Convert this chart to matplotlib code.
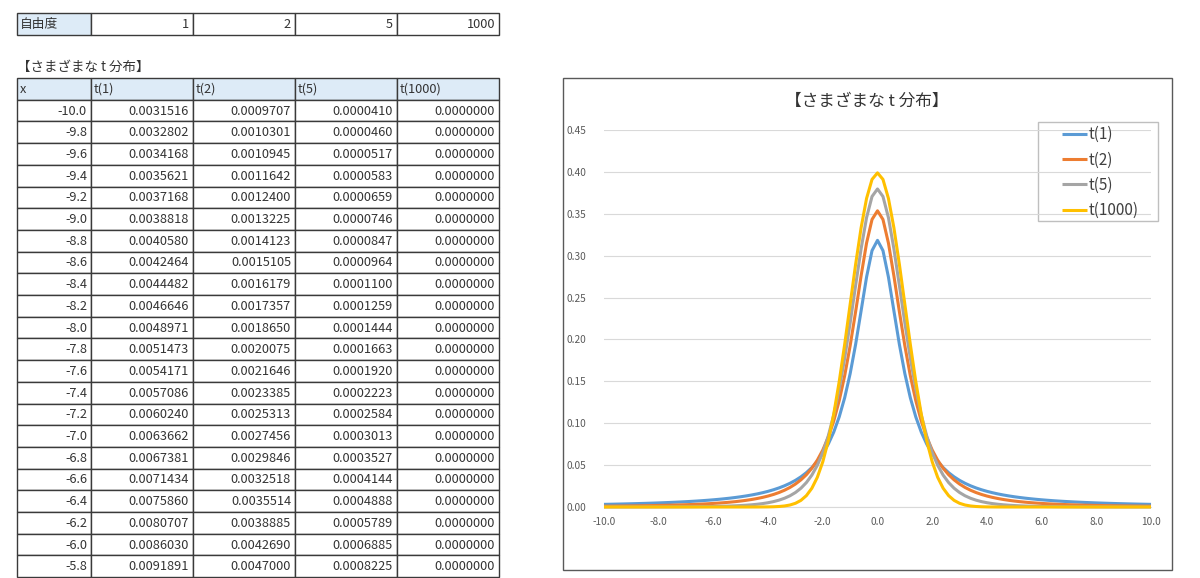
import matplotlib
matplotlib.use('Agg')
import numpy as np
import matplotlib.pyplot as plt
from matplotlib.patches import Rectangle
from matplotlib.ticker import FormatStrFormatter

plt.rcParams['font.family'] = ['Noto Sans CJK JP', 'DejaVu Sans']

# ---------------- data ----------------
dof_label = '自由度'
dof_values = [1, 2, 5, 1000]
table_title = '【さまざまな t 分布】'
chart_title = '【さまざまな t 分布】'
headers = ['x', 't(1)', 't(2)', 't(5)', 't(1000)']

table_x = [-10.0, -9.8, -9.6, -9.4, -9.2, -9.0, -8.8, -8.6, -8.4, -8.2, -8.0,
           -7.8, -7.6, -7.4, -7.2, -7.0, -6.8, -6.6, -6.4, -6.2, -6.0, -5.8]
table_t1 = [0.0031516, 0.0032802, 0.0034168, 0.0035621, 0.0037168, 0.0038818,
            0.0040580, 0.0042464, 0.0044482, 0.0046646, 0.0048971, 0.0051473,
            0.0054171, 0.0057086, 0.0060240, 0.0063662, 0.0067381, 0.0071434,
            0.0075860, 0.0080707, 0.0086030, 0.0091891]
table_t2 = [0.0009707, 0.0010301, 0.0010945, 0.0011642, 0.0012400, 0.0013225,
            0.0014123, 0.0015105, 0.0016179, 0.0017357, 0.0018650, 0.0020075,
            0.0021646, 0.0023385, 0.0025313, 0.0027456, 0.0029846, 0.0032518,
            0.0035514, 0.0038885, 0.0042690, 0.0047000]
table_t5 = [0.0000410, 0.0000460, 0.0000517, 0.0000583, 0.0000659, 0.0000746,
            0.0000847, 0.0000964, 0.0001100, 0.0001259, 0.0001444, 0.0001663,
            0.0001920, 0.0002223, 0.0002584, 0.0003013, 0.0003527, 0.0004144,
            0.0004888, 0.0005789, 0.0006885, 0.0008225]
table_t1000 = [0.0, 0.0, 0.0, 0.0, 0.0, 0.0, 0.0, 0.0, 0.0, 0.0, 0.0,
               0.0, 0.0, 0.0, 0.0, 0.0, 0.0, 0.0, 0.0, 0.0, 0.0, 0.0]

chart_x = [-10.0, -9.8, -9.6, -9.4, -9.2, -9.0, -8.8, -8.6, -8.4, -8.2,
           -8.0, -7.8, -7.6, -7.4, -7.2, -7.0, -6.8, -6.6, -6.4, -6.2,
           -6.0, -5.8, -5.6, -5.4, -5.2, -5.0, -4.8, -4.6, -4.4, -4.2,
           -4.0, -3.8, -3.6, -3.4, -3.2, -3.0, -2.8, -2.6, -2.4, -2.2,
           -2.0, -1.8, -1.6, -1.4, -1.2, -1.0, -0.8, -0.6, -0.4, -0.2,
           0.0,
           0.2, 0.4, 0.6, 0.8, 1.0, 1.2, 1.4, 1.6, 1.8, 2.0,
           2.2, 2.4, 2.6, 2.8, 3.0, 3.2, 3.4, 3.6, 3.8, 4.0,
           4.2, 4.4, 4.6, 4.8, 5.0, 5.2, 5.4, 5.6, 5.8, 6.0,
           6.2, 6.4, 6.6, 6.8, 7.0, 7.2, 7.4, 7.6, 7.8, 8.0,
           8.2, 8.4, 8.6, 8.8, 9.0, 9.2, 9.4, 9.6, 9.8, 10.0]

chart_t1 = [0.0031516, 0.0032802, 0.0034168, 0.0035621, 0.0037168, 0.0038818, 0.0040580, 0.0042464, 0.0044482, 0.0046646,
            0.0048971, 0.0051473, 0.0054171, 0.0057086, 0.0060240, 0.0063662, 0.0067381, 0.0071434, 0.0075860, 0.0080707,
            0.0086030, 0.0091891, 0.009837, 0.010554, 0.011352, 0.012243, 0.013241, 0.014364, 0.015634, 0.017077,
            0.018724, 0.020616, 0.022802, 0.025343, 0.028319, 0.031831, 0.036008, 0.041019, 0.047087, 0.054505,
            0.063662, 0.075073, 0.089413, 0.107537, 0.130455, 0.159155, 0.194091, 0.234051, 0.274405, 0.306067,
            0.318310,
            0.306067, 0.274405, 0.234051, 0.194091, 0.159155, 0.130455, 0.107537, 0.089413, 0.075073, 0.063662,
            0.054505, 0.047087, 0.041019, 0.036008, 0.031831, 0.028319, 0.025343, 0.022802, 0.020616, 0.018724,
            0.017077, 0.015634, 0.014364, 0.013241, 0.012243, 0.011352, 0.010554, 0.009837, 0.0091891, 0.0086030,
            0.0080707, 0.0075860, 0.0071434, 0.0067381, 0.0063662, 0.0060240, 0.0057086, 0.0054171, 0.0051473, 0.0048971,
            0.0046646, 0.0044482, 0.0042464, 0.0040580, 0.0038818, 0.0037168, 0.0035621, 0.0034168, 0.0032802, 0.0031516]

chart_t2 = [0.0009707, 0.0010301, 0.0010945, 0.0011642, 0.0012400, 0.0013225, 0.0014123, 0.0015105, 0.0016179, 0.0017357,
            0.0018650, 0.0020075, 0.0021646, 0.0023385, 0.0025313, 0.0027456, 0.0029846, 0.0032518, 0.0035514, 0.0038885,
            0.0042690, 0.0047000, 0.005190, 0.005749, 0.006390, 0.007128, 0.007981, 0.008972, 0.010130, 0.011489,
            0.013095, 0.015002, 0.017282, 0.020027, 0.023352, 0.027410, 0.032397, 0.038570, 0.046260, 0.055901,
            0.068041, 0.083369, 0.102696, 0.126899, 0.156734, 0.192450, 0.233128, 0.275823, 0.315005, 0.343207,
            0.353553,
            0.343207, 0.315005, 0.275823, 0.233128, 0.192450, 0.156734, 0.126899, 0.102696, 0.083369, 0.068041,
            0.055901, 0.046260, 0.038570, 0.032397, 0.027410, 0.023352, 0.020027, 0.017282, 0.015002, 0.013095,
            0.011489, 0.010130, 0.008972, 0.007981, 0.007128, 0.006390, 0.005749, 0.005190, 0.0047000, 0.0042690,
            0.0038885, 0.0035514, 0.0032518, 0.0029846, 0.0027456, 0.0025313, 0.0023385, 0.0021646, 0.0020075, 0.0018650,
            0.0017357, 0.0016179, 0.0015105, 0.0014123, 0.0013225, 0.0012400, 0.0011642, 0.0010945, 0.0010301, 0.0009707]

chart_t5 = [0.0000410, 0.0000460, 0.0000517, 0.0000583, 0.0000659, 0.0000746, 0.0000847, 0.0000964, 0.0001100, 0.0001259,
            0.0001444, 0.0001663, 0.0001920, 0.0002223, 0.0002584, 0.0003013, 0.0003527, 0.0004144, 0.0004888, 0.0005789,
            0.0006885, 0.0008225, 0.000987, 0.001190, 0.001443, 0.001757, 0.002152, 0.002651, 0.003283, 0.004089,
            0.005124, 0.006459, 0.008191, 0.010449, 0.013406, 0.017293, 0.022416, 0.029176, 0.038090, 0.049803,
            0.065090, 0.084813, 0.109819, 0.140739, 0.177659, 0.219680, 0.264489, 0.308142, 0.345378, 0.370641,
            0.379607,
            0.370641, 0.345378, 0.308142, 0.264489, 0.219680, 0.177659, 0.140739, 0.109819, 0.084813, 0.065090,
            0.049803, 0.038090, 0.029176, 0.022416, 0.017293, 0.013406, 0.010449, 0.008191, 0.006459, 0.005124,
            0.004089, 0.003283, 0.002651, 0.002152, 0.001757, 0.001443, 0.001190, 0.000987, 0.0008225, 0.0006885,
            0.0005789, 0.0004888, 0.0004144, 0.0003527, 0.0003013, 0.0002584, 0.0002223, 0.0001920, 0.0001663, 0.0001444,
            0.0001259, 0.0001100, 0.0000964, 0.0000847, 0.0000746, 0.0000659, 0.0000583, 0.0000517, 0.0000460, 0.0000410]

chart_t1000 = [0.0, 0.0, 0.0, 0.0, 0.0, 0.0, 0.0, 0.0, 0.0, 0.0,
               0.0, 0.0, 0.0, 0.0, 0.0, 0.0, 0.0, 0.0, 0.0, 0.0,
               0.0, 0.0, 0.0000001, 0.0000002, 0.0000005, 0.0000015, 0.0000040, 0.0000101, 0.0000250, 0.0000590,
               0.000134, 0.000292, 0.000612, 0.001232, 0.002384, 0.004432, 0.007915, 0.013583, 0.022395, 0.035475,
               0.053991, 0.078950, 0.110921, 0.149727, 0.194186, 0.241971, 0.289692, 0.333225, 0.368270, 0.391043,
               0.398843,
               0.391043, 0.368270, 0.333225, 0.289692, 0.241971, 0.194186, 0.149727, 0.110921, 0.078950, 0.053991,
               0.035475, 0.022395, 0.013583, 0.007915, 0.004432, 0.002384, 0.001232, 0.000612, 0.000292, 0.000134,
               0.0000590, 0.0000250, 0.0000101, 0.0000040, 0.0000015, 0.0000005, 0.0000002, 0.0000001, 0.0, 0.0,
               0.0, 0.0, 0.0, 0.0, 0.0, 0.0, 0.0, 0.0, 0.0, 0.0,
               0.0, 0.0, 0.0, 0.0, 0.0, 0.0, 0.0, 0.0, 0.0, 0.0]

series_labels = ['t(1)', 't(2)', 't(5)', 't(1000)']
series_colors = ['#5B9BD5', '#ED7D31', '#A5A5A5', '#FFC000']

# ---------------- figure ----------------
W, H = 1200, 578
fig = plt.figure(figsize=(W / 100, H / 100), dpi=100)
fig.patch.set_facecolor('white')

bg = fig.add_axes([0, 0, 1, 1])
bg.set_xlim(0, W)
bg.set_ylim(H, 0)
bg.axis('off')

col_edges = [17, 91, 193, 295, 397, 499]
grid_color = '#3A3A3A'
hdr_fill = '#DDEBF7'
txt_color = '#333333'
fs_table = 9.2


def cell(x0, x1, y0, y1, text, align, fill='white'):
    bg.add_patch(Rectangle((x0, y0), x1 - x0, y1 - y0, facecolor=fill,
                           edgecolor=grid_color, linewidth=1.0, zorder=1))
    yc = (y0 + y1) / 2 + 0.5
    if align == 'left':
        bg.text(x0 + 3, yc, text, ha='left', va='center', fontsize=fs_table,
                color=txt_color, zorder=3)
    else:
        bg.text(x1 - 4, yc, text, ha='right', va='center', fontsize=fs_table,
                color=txt_color, zorder=3)


# degrees-of-freedom row
cell(col_edges[0], col_edges[1], 13, 35, dof_label, 'left', hdr_fill)
for i, v in enumerate(dof_values):
    cell(col_edges[i + 1], col_edges[i + 2], 13, 35, str(v), 'right')

# table title
bg.text(17, 67, table_title, ha='left', va='center', fontsize=9.7, color=txt_color)

# main table
y0 = 78
rh = 21.7
for j, h in enumerate(headers):
    cell(col_edges[j], col_edges[j + 1], y0, y0 + rh, h, 'left', hdr_fill)
cols = [table_t1, table_t2, table_t5, table_t1000]
for i, xv in enumerate(table_x):
    ya = y0 + rh * (i + 1)
    cell(col_edges[0], col_edges[1], ya, ya + rh, f'{xv:.1f}', 'right')
    for j, col in enumerate(cols):
        cell(col_edges[j + 1], col_edges[j + 2], ya, ya + rh, f'{col[i]:.7f}', 'right')

# chart frame
bg.add_patch(Rectangle((563, 78), 1172 - 563, 570 - 78, facecolor='white',
                       edgecolor='#595959', linewidth=1.0, zorder=1))
bg.text(867, 101, chart_title, ha='center', va='center', fontsize=12,
        color='#333333', zorder=3)
# legend box
bg.add_patch(Rectangle((1038, 122), 120, 99, facecolor='white',
                       edgecolor='#BFBFBF', linewidth=1.0, zorder=2))

# ---------------- chart ----------------
ax = fig.add_axes([604 / W, (H - 507) / H, (1151 - 604) / W, (507 - 130) / H])
ax.set_facecolor('none')
for s, lab, c in zip([chart_t1, chart_t2, chart_t5, chart_t1000], series_labels, series_colors):
    ax.plot(chart_x, s, color=c, linewidth=2.2, label=lab,
            solid_joinstyle='round', solid_capstyle='butt', clip_on=False, zorder=3)

ax.set_xlim(-10, 10)
ax.set_ylim(0, 0.45)
ax.set_xticks(np.arange(-10, 10.1, 2))
ax.set_yticks(np.arange(0, 0.451, 0.05))
ax.xaxis.set_major_formatter(FormatStrFormatter('%.1f'))
ax.yaxis.set_major_formatter(FormatStrFormatter('%.2f'))
ax.tick_params(axis='both', length=0, labelsize=7.3, colors='#595959')
ax.tick_params(axis='y', pad=13)
ax.tick_params(axis='x', pad=7)
ax.grid(axis='y', color='#D9D9D9', linewidth=0.8)
ax.set_axisbelow(True)
for side in ['top', 'right', 'left']:
    ax.spines[side].set_visible(False)
ax.spines['bottom'].set_color('#D9D9D9')
ax.spines['bottom'].set_linewidth(0.8)

leg = ax.legend(loc='upper left', bbox_to_anchor=(1062 / W, 1 - 126 / H),
                bbox_transform=fig.transFigure, frameon=False, fontsize=11,
                handlelength=1.65, handletextpad=0.08, borderpad=0,
                borderaxespad=0, labelspacing=0.55, labelcolor='#404040')
for line in leg.get_lines():
    line.set_linewidth(2.2)

fig.savefig('out.png', dpi=100, facecolor='white')
